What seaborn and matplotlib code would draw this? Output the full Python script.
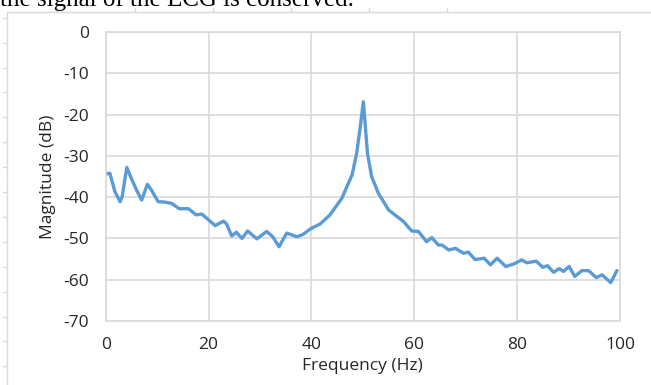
import matplotlib
matplotlib.use("Agg")
import matplotlib.pyplot as plt
from matplotlib.lines import Line2D
import seaborn as sns
import pandas as pd

# Magnitude spectrum of the filtered ECG signal
freq_hz = [0.0, 0.8, 1.8, 2.8, 3.2, 4.1, 5.1, 6.0, 7.0, 8.1, 8.9, 10.2, 11.5,
           12.8, 14.3, 16.1, 17.6, 18.7, 20.0, 21.3, 22.9, 23.5, 24.5, 25.4,
           26.5, 27.6, 29.4, 31.3, 32.5, 33.7, 35.2, 37.2, 38.4, 39.9, 41.7,
           43.6, 45.9, 47.9, 48.8, 49.5, 50.1, 50.9, 51.7, 53.0, 55.0, 57.9,
           59.5, 60.8, 62.4, 63.4, 64.7, 65.4, 66.7, 68.0, 69.6, 70.5, 71.8,
           73.6, 74.8, 76.1, 77.8, 79.3, 80.9, 81.9, 83.7, 85.0, 85.9, 87.1,
           88.2, 89.0, 90.1, 91.2, 92.6, 93.9, 95.4, 96.5, 98.2, 99.4]
magnitude_db = [-34.4, -34.2, -38.7, -41.1, -39.9, -32.8, -35.8, -38.3, -40.7,
                -36.9, -38.3, -41.1, -41.2, -41.5, -42.8, -42.8, -44.3, -44.1,
                -45.5, -46.9, -45.8, -46.5, -49.4, -48.5, -50.0, -48.2, -50.1,
                -48.3, -49.6, -52.0, -48.7, -49.6, -49.0, -47.6, -46.5, -44.3,
                -40.3, -34.6, -29.4, -22.9, -16.9, -29.4, -35.0, -39.0, -43.1,
                -45.9, -48.2, -48.3, -50.8, -49.8, -51.6, -51.6, -52.8, -52.4,
                -53.6, -53.3, -55.1, -54.8, -56.4, -54.8, -56.8, -56.2, -55.2,
                -55.9, -55.5, -57.0, -56.6, -58.2, -57.3, -58.0, -56.8, -59.2,
                -57.8, -57.8, -59.5, -58.8, -60.7, -57.8]

x_ticks = [0, 20, 40, 60, 80, 100]
y_ticks = [0, -10, -20, -30, -40, -50, -60, -70]

df = pd.DataFrame({"Frequency (Hz)": freq_hz, "Magnitude (dB)": magnitude_db})

sns.set_style("white")
plt.rcParams["font.family"] = ["Open Sans", "DejaVu Sans"]

W, H = 651, 385
fig = plt.figure(figsize=(W / 100, H / 100), dpi=100)
ax = fig.add_axes([105.7 / W, 1 - 321 / H, (620 - 105.7) / W, (321 - 32) / H])

sns.lineplot(data=df, x="Frequency (Hz)", y="Magnitude (dB)", ax=ax,
             color="#5B9BD5", linewidth=2.4, solid_capstyle="round",
             solid_joinstyle="round")

ax.set_xlim(0, 100)
ax.set_ylim(-70, 0)
ax.set_xticks(x_ticks)
ax.set_yticks(y_ticks)
ax.set_xticklabels([str(v) for v in x_ticks])
ax.set_yticklabels([str(v) for v in y_ticks])
ax.grid(True, color="#D9D9D9", linewidth=1.2)
ax.set_axisbelow(True)
for side in ax.spines.values():
    side.set_color("#D9D9D9")
    side.set_linewidth(1.2)
ax.tick_params(axis="both", length=0, labelsize=12.5, colors="#262626")
ax.tick_params(axis="x", pad=11.5)
ax.tick_params(axis="y", pad=12)
ax.set_xlabel("Frequency (Hz)", fontsize=12.5, color="#262626", labelpad=3.5)
ax.set_ylabel("Magnitude (dB)", fontsize=12.5, color="#262626", labelpad=5)

# Surrounding chart frame (top and left edges) with its small marks
frame = "#D9D9D9"
fig.add_artist(Line2D([7 / W, 1.0], [1 - 12 / H] * 2, color=frame, lw=1.0))
fig.add_artist(Line2D([7 / W] * 2, [0.0, 1 - 12 / H], color=frame, lw=1.0))
for xm in [57, 135, 213, 291, 369, 447]:
    fig.add_artist(Line2D([xm / W] * 2, [1 - 8 / H, 1 - 12 / H], color=frame, lw=1.0))
ym = 17.7
while ym < H:
    fig.add_artist(Line2D([3 / W, 7 / W], [1 - ym / H] * 2, color=frame, lw=1.0))
    ym += 24.9

# Preceding document line, partly above the chart
fig.text(0.0, 1 - 6 / H, "the signal of the ECG is conserved.",
         family=["Liberation Serif", "DejaVu Serif"], fontsize=18,
         color="black", ha="left", va="baseline")

fig.savefig("out.png", dpi=100, facecolor="white")
